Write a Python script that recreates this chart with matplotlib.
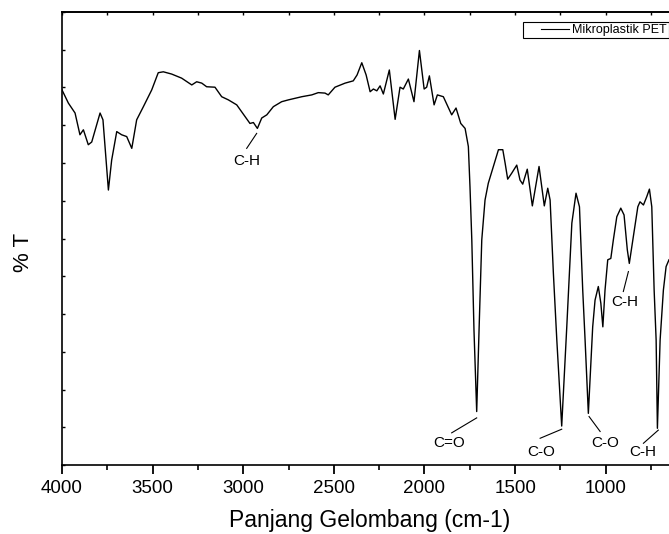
import numpy as np
import matplotlib
matplotlib.use("Agg")
import matplotlib.pyplot as plt
from matplotlib.ticker import MultipleLocator, NullFormatter
from matplotlib.legend_handler import HandlerLine2D

plt.rcParams['font.family'] = ['Liberation Sans', 'DejaVu Sans']

# FTIR spectrum of PET microplastic (wavenumber cm-1, %T)
wavenumber = [4000, 3965, 3928, 3901, 3882, 3855, 3836, 3790, 3774, 3744,
              3726, 3698, 3671, 3643, 3615, 3588, 3551, 3505, 3469, 3441,
              3395, 3340, 3284, 3257, 3229, 3202, 3156, 3119, 3082, 3036,
              2990, 2963, 2944, 2922, 2898, 2870, 2834, 2788, 2751, 2677,
              2622, 2586, 2549, 2531, 2494, 2438, 2393, 2372, 2346, 2322,
              2300, 2282, 2263, 2245, 2227, 2194, 2162, 2135, 2117, 2089,
              2058, 2028, 2002, 1988, 1973, 1947, 1929, 1896, 1850, 1826,
              1800, 1776, 1758, 1749, 1739, 1727, 1712, 1699, 1684, 1666,
              1648, 1620, 1592, 1568, 1555, 1541, 1519, 1491, 1473, 1458,
              1433, 1405, 1368, 1339, 1320, 1307, 1289, 1270, 1243, 1215,
              1187, 1164, 1145, 1127, 1114, 1096, 1072, 1059, 1041, 1027,
              1016, 1004, 989, 972, 958, 939, 917, 899, 881, 870,
              848, 823, 811, 792, 774, 759, 746, 733, 722, 715,
              700, 682, 667, 651]
transmittance = [82.8, 79.9, 77.7, 72.9, 74.0, 70.7, 71.3, 77.7, 76.2, 60.7,
                 67.3, 73.6, 72.9, 72.5, 69.9, 76.2, 79.1, 82.8, 86.6, 86.8,
                 86.3, 85.4, 83.9, 84.6, 84.3, 83.5, 83.4, 81.3, 80.6, 79.5,
                 76.9, 75.4, 75.6, 74.3, 76.6, 77.3, 79.1, 80.2, 80.6, 81.3,
                 81.7, 82.2, 82.1, 81.7, 83.4, 84.3, 84.8, 86.1, 88.8, 86.1,
                 82.4, 83.0, 82.6, 83.7, 81.9, 87.2, 76.3, 83.4, 83.0, 85.2,
                 80.2, 91.5, 83.0, 83.4, 85.9, 79.5, 81.7, 81.3, 77.3, 78.8,
                 75.4, 74.3, 70.3, 61.4, 49.7, 29.8, 11.8, 29.8, 49.7, 58.5,
                 62.2, 65.9, 69.6, 69.6, 66.6, 63.1, 64.4, 66.2, 62.9, 62.0,
                 65.3, 57.2, 65.9, 57.2, 61.1, 58.5, 42.4, 27.6, 8.6, 30.5,
                 53.4, 60.0, 57.0, 38.6, 27.6, 11.4, 30.5, 36.4, 39.4, 35.7,
                 30.5, 38.6, 45.3, 45.6, 49.7, 54.8, 56.7, 55.2, 47.5, 44.5,
                 50.4, 57.0, 58.1, 57.4, 59.2, 60.9, 57.0, 38.6, 27.6, 8.1,
                 27.6, 38.6, 43.8, 45.3]

# Peak annotations: label, text position, leader line start/end
peak_labels = ["C-H", "C=O", "C-O", "C-O", "C-H", "C-H"]
label_x = [2979, 1865, 1357, 1004, 794, 893]
label_y = [67.1, 4.9, 2.9, 4.9, 2.9, 36.0]
line_x0 = [2981, 1850, 1362, 1092, 792, 903]
line_y0 = [69.9, 7.1, 5.9, 10.7, 4.8, 38.3]
line_x1 = [2926, 1712, 1243, 1031, 710, 875]
line_y1 = [73.2, 10.4, 7.9, 7.4, 7.7, 42.7]

series_name = "Mikroplastik PET"
x_label = "Panjang Gelombang (cm-1)"
y_label = "% T"


class ShortLineHandler(HandlerLine2D):
    def get_xdata(self, legend, xdescent, ydescent, width, height, fontsize):
        x = np.array([-xdescent + width * 0.37, -xdescent + width])
        return x, x


fig = plt.figure(figsize=(6.69, 5.34), dpi=100)
ax = fig.add_axes([62 / 669, 69 / 534, 607 / 669, 453 / 534])

ax.plot(wavenumber, transmittance, color='black', lw=1.0, label=series_name)

for lab, tx, ty, x0, y0, x1, y1 in zip(peak_labels, label_x, label_y,
                                        line_x0, line_y0, line_x1, line_y1):
    ax.text(tx, ty, lab, ha='center', va='center', fontsize=11)
    ax.plot([x0, x1], [y0, y1], color='black', lw=0.8)

ax.set_xlim(4000, 651)
ax.set_ylim(0, 100)

ax.spines['right'].set_visible(False)
for s in ['left', 'top', 'bottom']:
    ax.spines[s].set_linewidth(1.2)

ax.xaxis.set_major_locator(MultipleLocator(500))
ax.xaxis.set_minor_locator(MultipleLocator(250))
ax.tick_params(axis='x', which='major', direction='out', length=6.5, width=1.3,
               labelsize=13.5, pad=4)
ax.tick_params(axis='x', which='minor', direction='out', length=3.5, width=1.2)

ax.set_yticks(np.linspace(0, 100, 13))
ax.yaxis.set_major_formatter(NullFormatter())
ax.tick_params(axis='y', which='both', direction='in', length=2.5, width=1.0,
               left=True, right=False)

top = ax.secondary_xaxis('top')
top.xaxis.set_major_locator(MultipleLocator(250))
top.tick_params(direction='in', length=2.5, width=1.0, labeltop=False)
top.spines['top'].set_linewidth(1.2)

ax.set_xlabel(x_label, fontsize=16.5)
ax.xaxis.set_label_coords(0.5066, -0.098)
ax.set_ylabel(y_label, fontsize=16)
ax.yaxis.set_label_coords(-0.046, 0.47)

leg = ax.legend(loc='upper right', bbox_to_anchor=(1.0, 0.977),
                borderaxespad=0, fontsize=9, frameon=True, fancybox=False,
                edgecolor='black', framealpha=1, borderpad=0.15,
                handlelength=3.5, handletextpad=0.3,
                handler_map={matplotlib.lines.Line2D: ShortLineHandler()})
leg.get_frame().set_linewidth(0.8)
for l in leg.get_lines():
    l.set_linewidth(0.8)

fig.savefig('out.png', dpi=100)
